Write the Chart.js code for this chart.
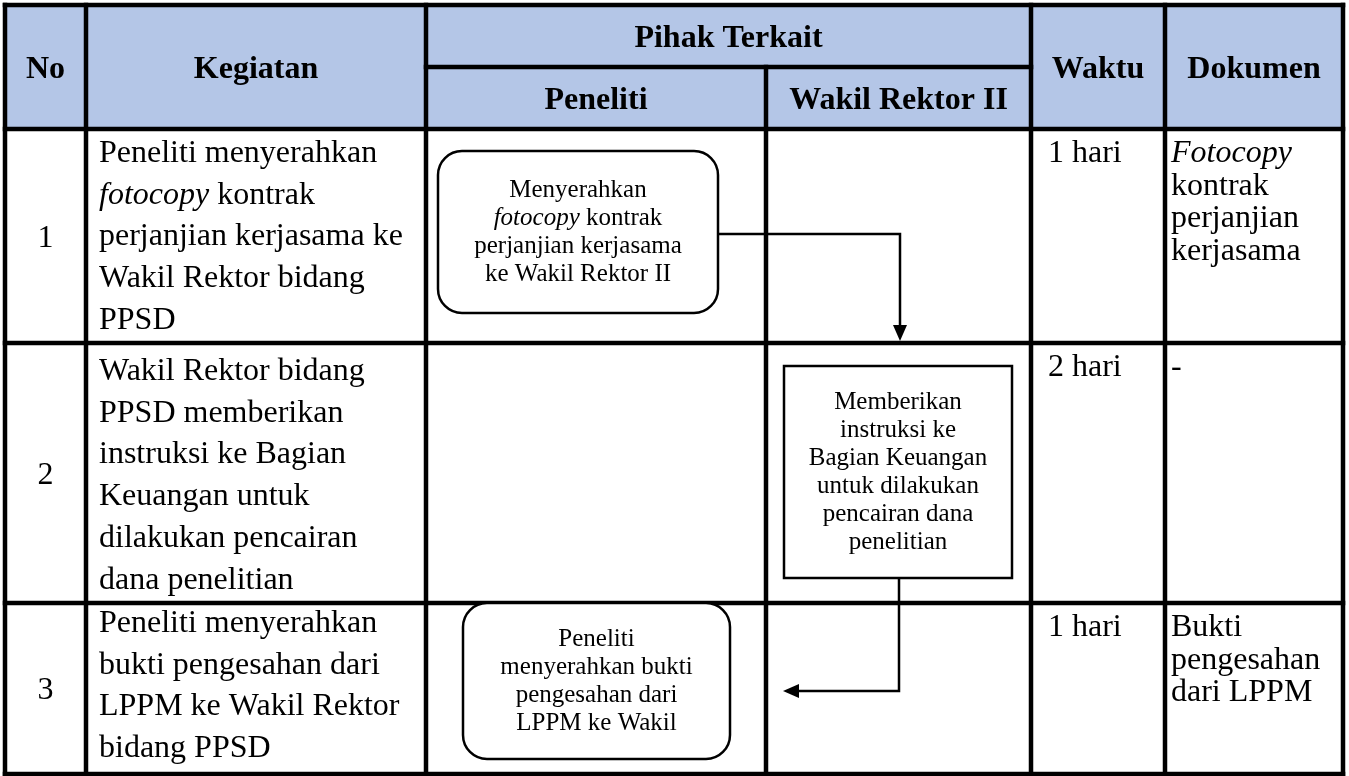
<!DOCTYPE html>
<html>
<head>
<meta charset="utf-8">
<title>Alur Pencairan Dana Penelitian</title>
<script src="https://cdn.jsdelivr.net/npm/chart.js@4.4.1/dist/chart.umd.min.js"></script>
<style>
  html, body { margin: 0; padding: 0; background: #ffffff; }
  #wrap { width: 1349px; height: 776px; position: relative; }
</style>
</head>
<body>
<div id="wrap"><canvas id="sopChart"></canvas></div>
<script>
// Isi tabel (data)
const headerCols = ['No', 'Kegiatan', 'Pihak Terkait', 'Waktu', 'Dokumen'];
const lanes = ['Peneliti', 'Wakil Rektor II'];
const stepNo = ['1', '2', '3'];
const kegiatan = [
    ['Peneliti menyerahkan', '_fotocopy_ kontrak', 'perjanjian kerjasama ke', 'Wakil Rektor bidang', 'PPSD'],
    ['Wakil Rektor bidang', 'PPSD memberikan', 'instruksi ke Bagian', 'Keuangan untuk', 'dilakukan pencairan', 'dana penelitian'],
    ['Peneliti menyerahkan', 'bukti pengesahan dari', 'LPPM ke Wakil Rektor', 'bidang PPSD']
];
const waktu = ['1 hari', '2 hari', '1 hari'];
const dokumen = [
    ['_Fotocopy_', 'kontrak', 'perjanjian', 'kerjasama'],
    ['-'],
    ['Bukti', 'pengesahan', 'dari LPPM']
];
// Simbol alur: lajur pelaksana, bentuk, teks
const nodeLane = [0, 1, 0];
const nodeShape = ['rounded', 'rect', 'rounded'];
const nodeText = [
    ['Menyerahkan', '_fotocopy_ kontrak', 'perjanjian kerjasama', 'ke Wakil Rektor II'],
    ['Memberikan', 'instruksi ke', 'Bagian Keuangan', 'untuk dilakukan', 'pencairan dana', 'penelitian'],
    ['Peneliti', 'menyerahkan bukti', 'pengesahan dari', 'LPPM ke Wakil']
];

// Tata letak (satuan sumbu)
const colEdges = [5, 86, 426, 766, 1031, 1165, 1343];
const rowEdges = [5, 67, 129, 343, 603, 774];
const kegFirstBase = [33, 37, 29];
const nodeBox = [
    { x0: 438, x1: 718, y0: 151, y1: 313 },
    { x0: 784, x1: 1012, y0: 366, y1: 578 },
    { x0: 463, x1: 730, y0: 603, y1: 759 }
];
const connectors = [
    { pts: [[718, 234], [900, 234], [900, 341]], dir: 'down' },
    { pts: [[899, 578], [899, 691], [783, 691]], dir: 'left' }
];

const FONT = '"Liberation Serif", "Times New Roman", serif';
const headerFill = '#b4c6e7';

// Menggambar teks dengan bagian miring (_..._)
function drawRich(ctx, str, x, y, align, size, bold) {
    const parts = str.split('_').map((t, i) => ({ t: t, it: i % 2 === 1 })).filter(p => p.t.length);
    const fontFor = p => (p.it ? 'italic ' : '') + (bold ? 'bold ' : '') + size + 'px ' + FONT;
    let total = 0;
    parts.forEach(p => { ctx.font = fontFor(p); p.w = ctx.measureText(p.t).width; total += p.w; });
    let cx = x;
    if (align === 'center') cx = x - total / 2;
    ctx.textAlign = 'left';
    parts.forEach(p => { ctx.font = fontFor(p); ctx.fillText(p.t, cx, y); cx += p.w; });
}

const sopTable = {
    id: 'sopTable',
    afterDraw(chart) {
        const ctx = chart.ctx;
        const sx = chart.scales.x, sy = chart.scales.y;
        const px = v => sx.getPixelForValue(v);
        const py = v => sy.getPixelForValue(v);
        const L = colEdges, R = rowEdges;
        ctx.save();

        // latar
        ctx.fillStyle = '#ffffff';
        ctx.fillRect(px(L[0]), py(R[0]), px(L[6]) - px(L[0]), py(R[5]) - py(R[0]));
        ctx.fillStyle = headerFill;
        ctx.fillRect(px(L[0]), py(R[0]), px(L[6]) - px(L[0]), py(R[2]) - py(R[0]));

        // garis tabel
        ctx.strokeStyle = '#000000';
        ctx.lineWidth = 4.5;
        ctx.lineCap = 'square';
        const hLine = (y, a, b) => { ctx.beginPath(); ctx.moveTo(px(a), py(y)); ctx.lineTo(px(b), py(y)); ctx.stroke(); };
        const vLine = (x, a, b) => { ctx.beginPath(); ctx.moveTo(px(x), py(a)); ctx.lineTo(px(x), py(b)); ctx.stroke(); };
        [0, 2, 3, 4, 5].forEach(i => hLine(R[i], L[0], L[6]));
        hLine(R[1], L[2], L[4]);
        L.forEach((x, i) => vLine(x, i === 3 ? R[1] : R[0], R[5]));

        // judul kolom (huruf kapital di tengah sel)
        ctx.fillStyle = '#000000';
        ctx.textBaseline = 'alphabetic';
        const hs = 32, capOff = hs * 0.33;
        const midHead = (py(R[0]) + py(R[2])) / 2 + capOff;
        drawRich(ctx, headerCols[0], (px(L[0]) + px(L[1])) / 2, midHead, 'center', hs, true);
        drawRich(ctx, headerCols[1], (px(L[1]) + px(L[2])) / 2, midHead, 'center', hs, true);
        drawRich(ctx, headerCols[2], (px(L[2]) + px(L[4])) / 2, (py(R[0]) + py(R[1])) / 2 + capOff, 'center', hs, true);
        drawRich(ctx, headerCols[3], (px(L[4]) + px(L[5])) / 2, midHead, 'center', hs, true);
        drawRich(ctx, headerCols[4], (px(L[5]) + px(L[6])) / 2, midHead, 'center', hs, true);
        lanes.forEach((t, i) => drawRich(ctx, t, (px(L[2 + i]) + px(L[3 + i])) / 2, (py(R[1]) + py(R[2])) / 2 + capOff, 'center', hs, true));

        // isi baris
        const bs = 32;
        stepNo.forEach((n, r) => {
            const top = py(R[2 + r]), bot = py(R[3 + r]);
            drawRich(ctx, n, (px(L[0]) + px(L[1])) / 2, (top + bot) / 2 + bs * 0.33, 'center', bs, false);
            kegiatan[r].forEach((t, k) => drawRich(ctx, t, px(L[1]) + 13, top + kegFirstBase[r] + k * 41.7, 'left', bs, false));
            drawRich(ctx, waktu[r], px(L[4]) + 17, top + 33, 'left', bs, false);
            dokumen[r].forEach((t, k) => drawRich(ctx, t, px(L[5]) + 6, top + 33 + k * 32.5, 'left', bs, false));
        });

        // simbol alur
        ctx.lineWidth = 2.5;
        const ns = 25, lh = 28;
        nodeBox.forEach((b, i) => {
            const x0 = px(b.x0), x1 = px(b.x1), y0 = py(b.y0), y1 = py(b.y1);
            ctx.fillStyle = '#ffffff';
            ctx.beginPath();
            if (nodeShape[i] === 'rounded') ctx.roundRect(x0, y0, x1 - x0, y1 - y0, 24);
            else ctx.rect(x0, y0, x1 - x0, y1 - y0);
            ctx.fill();
            ctx.stroke();
            ctx.fillStyle = '#000000';
            const n = nodeText[i].length;
            const cy = (y0 + y1) / 2 - (n - 1) * lh / 2 + ns * 0.28;
            nodeText[i].forEach((t, k) => drawRich(ctx, t, (x0 + x1) / 2, cy + k * lh, 'center', ns, false));
        });

        // panah penghubung
        ctx.lineCap = 'butt';
        ctx.lineJoin = 'miter';
        connectors.forEach(c => {
            const p = c.pts.map(q => [px(q[0]), py(q[1])]);
            const end = p[p.length - 1];
            const len = 16, hw = 7;
            ctx.beginPath();
            ctx.moveTo(p[0][0], p[0][1]);
            for (let i = 1; i < p.length - 1; i++) ctx.lineTo(p[i][0], p[i][1]);
            if (c.dir === 'down') ctx.lineTo(end[0], end[1] - len);
            else ctx.lineTo(end[0] + len, end[1]);
            ctx.stroke();
            ctx.fillStyle = '#000000';
            ctx.beginPath();
            if (c.dir === 'down') {
                ctx.moveTo(end[0], end[1]);
                ctx.lineTo(end[0] - hw, end[1] - len);
                ctx.lineTo(end[0] + hw, end[1] - len);
            } else {
                ctx.moveTo(end[0], end[1]);
                ctx.lineTo(end[0] + len, end[1] - hw);
                ctx.lineTo(end[0] + len, end[1] + hw);
            }
            ctx.closePath();
            ctx.fill();
        });
        ctx.restore();
    }
};

document.addEventListener('DOMContentLoaded', function() {
    const ctx = document.getElementById('sopChart').getContext('2d');
    new Chart(ctx, {
        type: 'scatter',
        data: { datasets: [] },
        options: {
            responsive: true,
            maintainAspectRatio: false,
            animation: false,
            layout: { padding: 0 },
            scales: {
                x: { type: 'linear', min: 0, max: 1349, display: false },
                y: { type: 'linear', min: 0, max: 776, reverse: true, display: false }
            },
            plugins: { legend: { display: false }, tooltip: { enabled: false } }
        },
        plugins: [sopTable]
    });
});
</script>
</body>
</html>
